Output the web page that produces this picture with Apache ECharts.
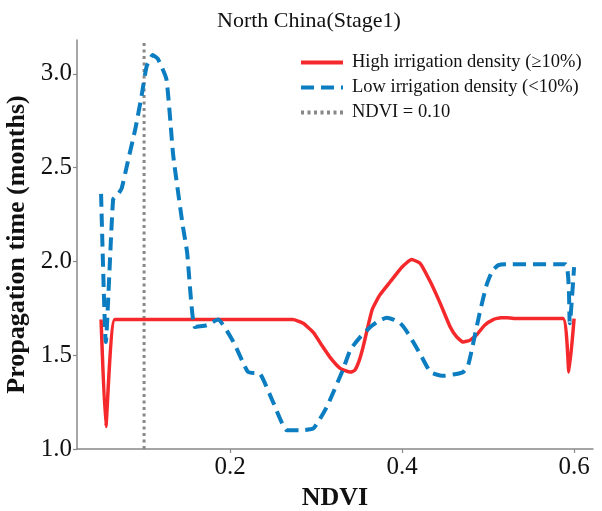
<!DOCTYPE html>
<html>
<head>
<meta charset="utf-8">
<script src="https://cdn.jsdelivr.net/npm/echarts@6/dist/echarts.min.js"></script>
<style>
  html, body { margin: 0; padding: 0; background: #fff; }
  #main { width: 602px; height: 511px; }
</style>
</head>
<body>
<div id="main"></div>
<script>
// values
var redX = [0.05, 0.0555, 0.066, 0.10, 0.20, 0.273, 0.285, 0.297, 0.307, 0.316, 0.328, 0.34, 0.345, 0.35, 0.355, 0.365, 0.374, 0.386, 0.40, 0.411, 0.421, 0.433, 0.444, 0.456, 0.463, 0.471, 0.479, 0.487, 0.496, 0.506, 0.515, 0.522, 0.534, 0.587, 0.594, 0.60];
var redY = [1.69, 1.12, 1.69, 1.69, 1.69, 1.69, 1.67, 1.62, 1.55, 1.49, 1.43, 1.41, 1.42, 1.47, 1.55, 1.74, 1.82, 1.89, 1.97, 2.01, 1.99, 1.89, 1.78, 1.65, 1.60, 1.57, 1.58, 1.61, 1.66, 1.69, 1.70, 1.70, 1.695, 1.695, 1.41, 1.695];

var blueX = [0.05, 0.0555, 0.064, 0.07, 0.074, 0.081, 0.09, 0.097, 0.103, 0.11, 0.116, 0.126, 0.134, 0.145, 0.15, 0.159, 0.173, 0.186, 0.204, 0.221, 0.235, 0.25, 0.266, 0.282, 0.297, 0.312, 0.331, 0.34, 0.352, 0.363, 0.372, 0.382, 0.39, 0.398, 0.405, 0.413, 0.423, 0.433, 0.448, 0.463, 0.471, 0.477, 0.483, 0.49, 0.498, 0.505, 0.512, 0.52, 0.59, 0.595, 0.60];
var blueY = [2.36, 1.57, 2.33, 2.36, 2.39, 2.53, 2.71, 2.88, 3.04, 3.10, 3.08, 2.97, 2.56, 2.19, 2.05, 1.65, 1.66, 1.69, 1.57, 1.41, 1.40, 1.25, 1.10, 1.10, 1.11, 1.22, 1.42, 1.53, 1.60, 1.65, 1.68, 1.70, 1.69, 1.67, 1.63, 1.57, 1.49, 1.41, 1.39, 1.40, 1.41, 1.45, 1.57, 1.72, 1.87, 1.95, 1.98, 1.985, 1.985, 1.67, 1.97];

var ndviLineX = [0.10, 0.10];
var ndviLineY = [1.0, 3.18];

var xTicks = [0.2, 0.4, 0.6];
var yTicks = [1.0, 1.5, 2.0, 2.5, 3.0];

function pairs(xs, ys) {
  return xs.map(function (x, i) { return [x, ys[i]]; });
}

var serif = 'Liberation Serif';
var myChart = echarts.init(document.getElementById('main'));

myChart.setOption({
  animation: false,
  title: {
    text: 'North China(Stage1)',
    left: 212,
    top: 5,
    textStyle: { fontFamily: serif, fontSize: 22, fontWeight: 'normal', color: '#111' }
  },
  legend: {
    orient: 'vertical',
    left: 294,
    top: 48,
    itemWidth: 42,
    itemHeight: 20,
    itemGap: 6,
    itemStyle: { opacity: 0 },
    lineStyle: { width: 4 },
    textStyle: { fontFamily: serif, fontSize: 18.5, color: '#111', padding: [0, 0, 0, 4] },
    data: ['High irrigation density (≥10%)', 'Low irrigation density (<10%)', 'NDVI = 0.10']
  },
  grid: { left: 77, right: 9, top: 40, bottom: 62, containLabel: false, outerBoundsMode: 'none' },
  xAxis: {
    type: 'value',
    min: 0.022,
    max: 0.622,
    name: 'NDVI',
    nameLocation: 'middle',
    nameGap: 31,
    nameTextStyle: { fontFamily: serif, fontSize: 26, fontWeight: 'bold', color: '#111' },
    splitLine: { show: false },
    axisLine: { lineStyle: { color: '#888', width: 1.5 } },
    axisTick: { show: true, length: 4, lineStyle: { color: '#888', width: 1.2 }, customValues: xTicks },
    axisLabel: {
      fontFamily: serif, fontSize: 25, color: '#111', margin: 6,
      customValues: xTicks,
      formatter: function (v) { return v.toFixed(1); }
    }
  },
  yAxis: {
    type: 'value',
    min: 1.0,
    max: 3.18,
    name: 'Propagation time (months)',
    nameLocation: 'middle',
    nameGap: 44,
    nameTextStyle: { fontFamily: serif, fontSize: 26, fontWeight: 'bold', color: '#111' },
    splitLine: { show: false },
    axisLine: { show: true, lineStyle: { color: '#888', width: 1.5 } },
    axisTick: { show: true, length: 4, lineStyle: { color: '#888', width: 1.2 }, customValues: yTicks },
    axisLabel: {
      fontFamily: serif, fontSize: 25, color: '#111', margin: 5,
      customValues: yTicks,
      formatter: function (v) { return v.toFixed(1); }
    }
  },
  series: [
    {
      name: 'High irrigation density (≥10%)',
      type: 'line',
      data: pairs(redX, redY),
      symbol: 'none',
      smooth: 0.15,
      lineStyle: { color: '#f5292b', width: 3.5 },
      itemStyle: { color: '#f5292b' },
      z: 3
    },
    {
      name: 'Low irrigation density (<10%)',
      type: 'line',
      data: pairs(blueX, blueY),
      symbol: 'none',
      smooth: 0.15,
      lineStyle: { color: '#0b7dc0', width: 4, type: [13, 7] },
      itemStyle: { color: '#0b7dc0' },
      z: 4
    },
    {
      name: 'NDVI = 0.10',
      type: 'line',
      data: pairs(ndviLineX, ndviLineY),
      symbol: 'none',
      lineStyle: { color: '#888', width: 3, type: [3, 3.5] },
      itemStyle: { color: '#888' },
      z: 2
    }
  ]
});
</script>
</body>
</html>
